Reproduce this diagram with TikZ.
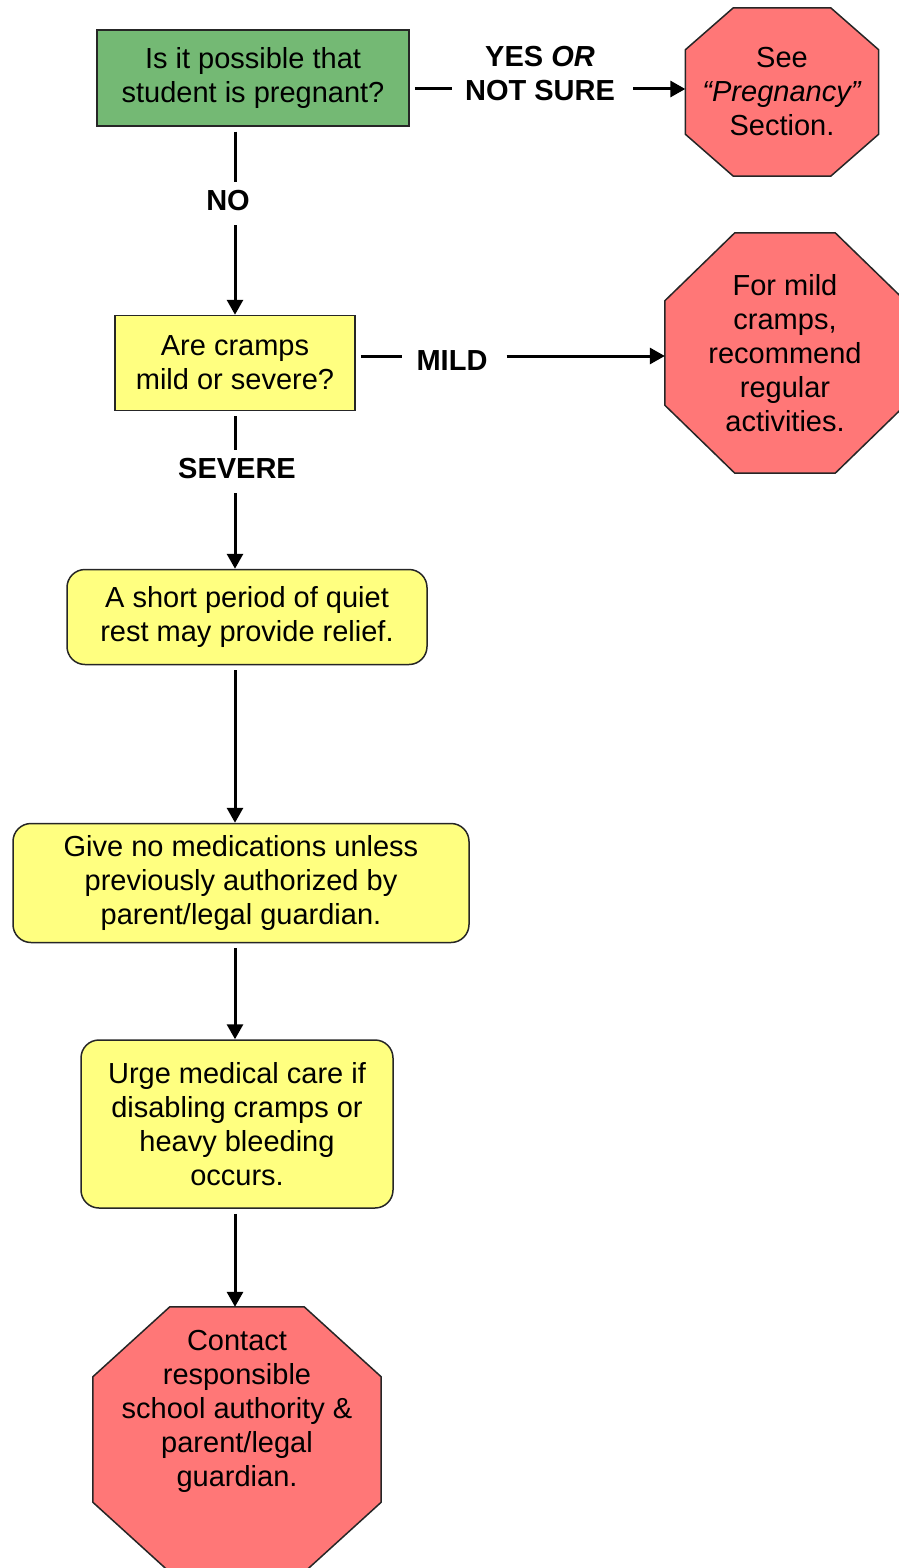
\documentclass[tikz,border=0pt]{standalone}
\usepackage{fontspec}
\setmainfont{Liberation Sans}
\usepackage{tikz}
\usetikzlibrary{arrows.meta,backgrounds}

\definecolor{askgreen}{RGB}{116,185,116}
\definecolor{boxyellow}{RGB}{255,255,128}
\definecolor{stopred}{RGB}{255,119,119}

% octagon round an invisible node: name, x cut, y cut, extra depth below
\newcommand{\drawstop}[4]{%
  \draw[stopline] ([xshift=#2]#1.north west) -- ([xshift=-#2]#1.north east)
    -- ([yshift=-#3]#1.north east) -- ([yshift=#3-#4]#1.south east)
    -- ([xshift=-#2,yshift=-#4]#1.south east) -- ([xshift=#2,yshift=-#4]#1.south west)
    -- ([yshift=#3-#4]#1.south west) -- ([yshift=-#3]#1.north west) -- cycle;}

\begin{document}
\begin{tikzpicture}[x=1pt, y=-1pt, >={Triangle[length=15pt,width=16pt]},
  every node/.style={font=\fontsize{29pt}{34pt}\selectfont, align=center, inner sep=0pt},
  qbox/.style={draw=black!85, line width=1.5pt, fill=boxyellow},
  stepbox/.style={qbox, rounded corners=18pt},
  stopbox/.style={draw=none},
  stopline/.style={draw=black!85, line width=1.5pt, fill=stopred},
  answer/.style={font=\fontsize{29pt}{34pt}\selectfont\bfseries, inner xsep=13pt, inner ysep=9pt},
  link/.style={line width=3pt, shorten <=5pt},
  flow/.style={link, ->}]
\useasboundingbox (0,0) rectangle (898,1568);

% Questions
\node[qbox, fill=askgreen, minimum width=312pt, minimum height=96pt] (preg) at (253,78)
  {Is it possible that\\student is pregnant?};
\node[qbox, minimum width=240pt, minimum height=95pt] (q2) at (235,363)
  {Are cramps\\mild or severe?};

% Steps
\node[stepbox, minimum width=360pt, minimum height=95pt] (rest) at (247,617)
  {A short period of quiet\\rest may provide relief.};
\node[stepbox, minimum width=456pt, minimum height=119pt] (meds) at (241,883)
  {Give no medications unless\\previously authorized by\\parent/legal guardian.};
\node[stepbox, minimum width=312pt, minimum height=168pt] (urge) at (237,1124)
  {Urge medical care if\\disabling cramps or\\heavy bleeding\\occurs.};

% Stop signs
\node[stopbox, minimum width=193pt, minimum height=168pt] (see) at (782,92)
  {See\\\textit{“Pregnancy”}\\Section.};
\node[stopbox, minimum width=240pt, minimum height=240pt] (mild) at (785,353)
  {For mild\\cramps,\\recommend\\regular\\activities.};
\node[stopbox, minimum width=288pt, minimum height=208pt] (contact) at (237,1411)
  {Contact\\responsible\\school authority \&\\parent/legal\\guardian.};
\begin{scope}[on background layer]
\drawstop{see}{48pt}{42pt}{0pt}
\drawstop{mild}{70pt}{68pt}{0pt}
\drawstop{contact}{77pt}{70pt}{57pt}
\end{scope}

% Answer labels
\node[answer] (yes) at (540,74) {YES \textit{OR}\\NOT SURE};
\node[answer] (no) at (228,201) {NO};
\node[answer, inner xsep=14pt] (mildans) at (452,361) {MILD};
\node[answer] (severe) at (237,469) {SEVERE};

% Connectors
\draw[link] ([yshift=-11pt]preg.east) -- ([yshift=-11pt]preg.east -| yes.west);
\draw[flow] ([yshift=-11pt]preg.east -| yes.east) -- ([yshift=-11pt]preg.east -| see.west);
\draw[link] (preg.south -| q2) -- (no.north -| q2);
\draw[flow] (no.south -| q2) -- (q2.north);
\draw[link] ([yshift=7pt]q2.east) -- ([yshift=7pt]q2.east -| mildans.west);
\draw[flow] ([yshift=7pt]q2.east -| mildans.east) -- ([yshift=7pt]q2.east -| mild.west);
\draw[link] (q2.south) -- (severe.north -| q2);
\draw[flow] (severe.south -| q2) -- (rest.north -| q2);
\draw[flow] (rest.south -| q2) -- (meds.north -| q2);
\draw[flow] (meds.south -| q2) -- (urge.north -| q2);
\draw[flow] (urge.south -| q2) -- (contact.north -| q2);
\end{tikzpicture}
\end{document}
